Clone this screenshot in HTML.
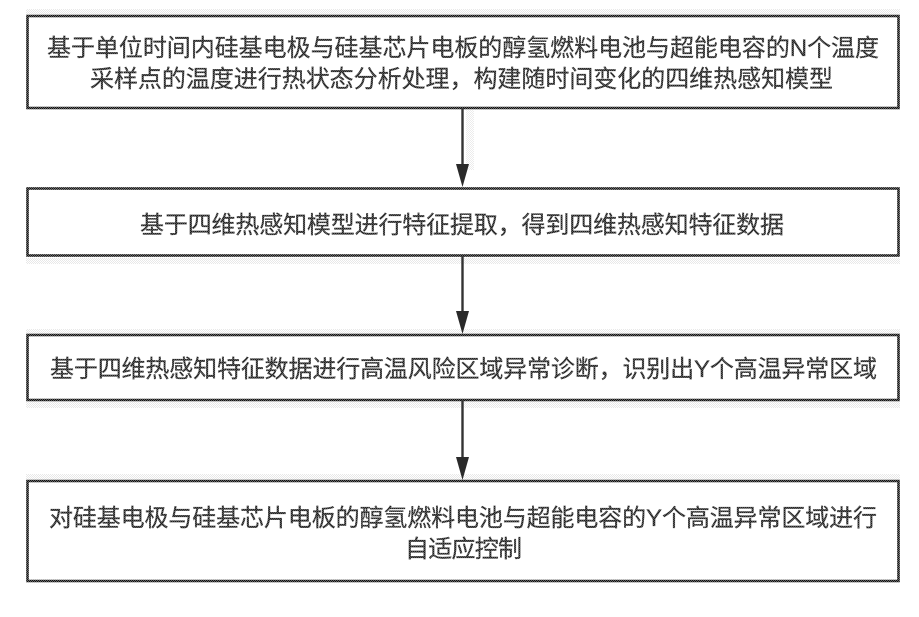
<!DOCTYPE html>
<html lang="zh">
<head>
<meta charset="utf-8">
<style>
html,body{margin:0;padding:0;background:#fff;width:919px;height:617px;overflow:hidden}
svg{display:block}
text{font-family:"Liberation Sans","Noto Sans CJK SC",sans-serif;font-size:24px;fill:url(#t);stroke:#555;stroke-width:.3px}
</style>
</head>
<body>
<svg width="919" height="617" viewBox="0 0 919 617" xmlns="http://www.w3.org/2000/svg">
<defs>
<pattern id="d" width="2" height="2" patternUnits="userSpaceOnUse">
<rect width="1" height="1" fill="#d8d8d8"/><rect x="1" y="1" width="1" height="1" fill="#d8d8d8"/>
</pattern>
<pattern id="t" width="2" height="2" patternUnits="userSpaceOnUse">
<rect width="2" height="2" fill="#5a5a5a"/>
<rect width="1" height="1" fill="#1c1c1c"/><rect x="1" y="1" width="1" height="1" fill="#1c1c1c"/>
</pattern>
<pattern id="l" width="2" height="2" patternUnits="userSpaceOnUse">
<rect width="2" height="2" fill="#666"/>
<rect width="1" height="1" fill="#111"/><rect x="1" y="1" width="1" height="1" fill="#111"/>
</pattern>
</defs>
<g fill="url(#d)">
<rect x="26" y="9" width="874" height="5" opacity=".6"/>
<rect x="26" y="258" width="874" height="6" opacity=".6"/>
<rect x="26" y="402" width="874" height="6" opacity=".6"/>
<rect x="26" y="329" width="874" height="5" opacity=".6"/>
<rect x="26" y="474" width="874" height="5" opacity=".6"/>
<rect x="466" y="110" width="8" height="60" opacity=".5"/>
</g>
<g fill="none" stroke="url(#l)" stroke-width="2.6">
<rect x="27.500" y="16" width="871" height="92"/>
<rect x="27.500" y="188.500" width="871" height="67"/>
<rect x="27.500" y="335" width="871" height="65"/>
<rect x="27.500" y="481" width="871" height="100"/>
</g>
<path d="M462.500 108V172M462.500 256V318M462.500 400V464" fill="none" stroke="#333" stroke-width="2.4"/>
<g fill="#2a2a2a">
<polygon points="456,164 469,164 462.500,187"/>
<polygon points="456,311 469,311 462.500,334"/>
<polygon points="456,457 469,457 462.500,480"/>
</g>
<text x="47" y="56" textLength="832" lengthAdjust="spacing">基于单位时间内硅基电极与硅基芯片电板的醇氢燃料电池与超能电容的N个温度</text>
<text x="90" y="87" textLength="743" lengthAdjust="spacing">采样点的温度进行热状态分析处理，构建随时间变化的四维热感知模型</text>
<text x="140" y="233" textLength="644" lengthAdjust="spacing">基于四维热感知模型进行特征提取，得到四维热感知特征数据</text>
<text x="50" y="377" textLength="827" lengthAdjust="spacing">基于四维热感知特征数据进行高温风险区域异常诊断，识别出Y个高温异常区域</text>
<text x="49" y="526" textLength="828" lengthAdjust="spacing">对硅基电极与硅基芯片电板的醇氢燃料电池与超能电容的Y个高温异常区域进行</text>
<text x="405" y="557" textLength="117" lengthAdjust="spacing">自适应控制</text>
</svg>
</body>
</html>
